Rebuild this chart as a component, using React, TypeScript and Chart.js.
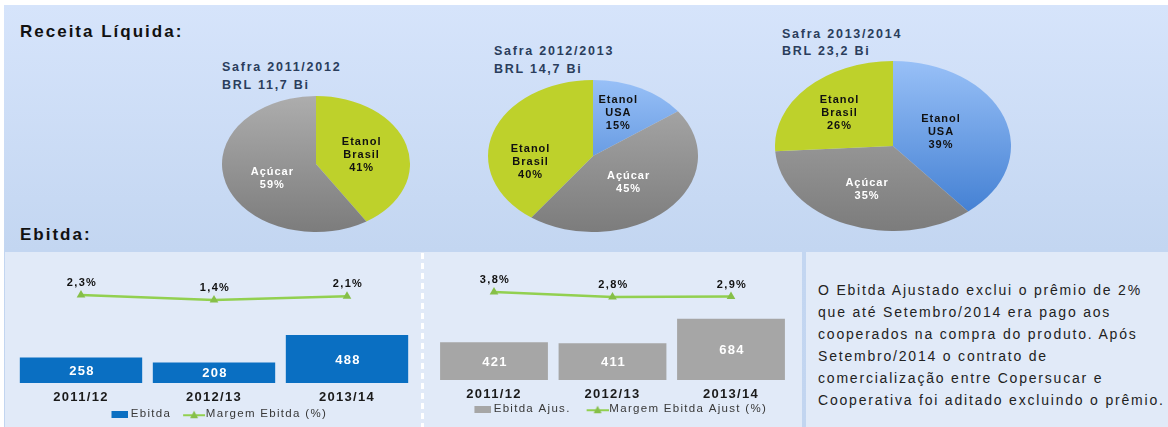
import React, { useEffect, useRef } from "react";
import { Chart, registerables } from "chart.js";
Chart.register(...registerables);

const FONT = '"Liberation Sans", Arial, Helvetica, sans-serif';

// ---------- data ----------
const sectionTitles = ["Receita Líquida:", "Ebitda:"];
const pieTitles = ["Safra 2011/2012", "Safra 2012/2013", "Safra 2013/2014"];
const pieTotals = ["BRL 11,7 Bi", "BRL 14,7 Bi", "BRL 23,2 Bi"];
const pie1Segments = ["Etanol Brasil", "Açúcar"];
const pie1Values = [41, 59];
const pie2Segments = ["Etanol USA", "Açúcar", "Etanol Brasil"];
const pie2Values = [15, 45, 40];
const pie3Segments = ["Etanol USA", "Açúcar", "Etanol Brasil"];
const pie3Values = [39, 35, 26];

const years = ["2011/12", "2012/13", "2013/14"];
const ebitdaValues = [258, 208, 488];
const margemEbitda = [2.3, 1.4, 2.1];
const ebitdaAjusValues = [421, 411, 684];
const margemEbitdaAjust = [3.8, 2.8, 2.9];
const ebitdaLegend = ["Ebitda", "Margem Ebitda (%)"];
const ebitdaAjusLegend = ["Ebitda Ajus.", "Margem Ebitda Ajust (%)"];

const noteLines = [
  "O Ebitda Ajustado exclui o prêmio de 2%",
  "que até Setembro/2014 era pago aos",
  "cooperados na compra do produto. Após",
  "Setembro/2014 o contrato de",
  "comercialização entre Copersucar e",
  "Cooperativa foi aditado excluindo o prêmio.",
];

// ---------- colours ----------
const GREEN = "#bed12b";
const BAR_BLUE = "#0a6fc2";
const BAR_GRAY = "#a6a6a6";
const LINE_GREEN = "#92d050";
const POINT_GREEN = "#86bf48";
const TITLE_NAVY = "#2a3d5c";

function segmentColor(name: string, c: any) {
  if (name === "Etanol Brasil") return GREEN;
  const area = c.chart.chartArea;
  if (!area) return name === "Açúcar" ? "#999" : "#6a9de6";
  const g = c.chart.ctx.createLinearGradient(0, area.top, 0, area.bottom);
  if (name === "Açúcar") {
    g.addColorStop(0, "#adadad");
    g.addColorStop(1, "#7c7c7c");
  } else {
    g.addColorStop(0, "#98c0f7");
    g.addColorStop(1, "#3a79cf");
  }
  return g;
}

function ellipsePiePlugin(sx: number, segments: string[], values: number[], nudges: number[][]) {
  return {
    id: "ellipsePie",
    beforeDatasetsDraw(chart: any) {
      const { ctx, chartArea: a } = chart;
      const cx = (a.left + a.right) / 2;
      ctx.save();
      ctx.translate(cx, 0);
      ctx.scale(sx, 1);
      ctx.translate(-cx, 0);
    },
    afterDatasetsDraw(chart: any) {
      const ctx = chart.ctx;
      ctx.restore();
      ctx.save();
      (ctx as any).letterSpacing = "1px";
      ctx.font = `bold 11px ${FONT}`;
      ctx.textAlign = "center";
      ctx.textBaseline = "middle";
      const meta = chart.getDatasetMeta(0);
      meta.data.forEach((el: any, i: number) => {
        const p = el.getProps(["x", "y", "startAngle", "endAngle", "outerRadius"], true);
        const mid = (p.startAngle + p.endAngle) / 2;
        const r = p.outerRadius * 0.5;
        const n = nudges[i] || [0, 0];
        const px = p.x + Math.cos(mid) * r * sx + n[0];
        const py = p.y + Math.sin(mid) * r + n[1];
        const lines = [...segments[i].split(" "), `${values[i]}%`];
        ctx.fillStyle = segments[i] === "Açúcar" ? "#ffffff" : "#111111";
        const lh = 13;
        lines.forEach((t, k) => {
          ctx.fillText(t, px + 0.5, py + (k - (lines.length - 1) / 2) * lh);
        });
      });
      ctx.restore();
    },
  };
}

function PieChart(props: {
  segments: string[];
  values: number[];
  cx: number;
  cy: number;
  rx: number;
  ry: number;
  nudges: number[][];
}) {
  const { segments, values, cx, cy, rx, ry, nudges } = props;
  const ref = useRef<HTMLCanvasElement>(null);
  useEffect(() => {
    const chart = new Chart(ref.current as HTMLCanvasElement, {
      type: "pie",
      data: {
        labels: segments,
        datasets: [
          {
            data: values,
            borderWidth: 0,
            backgroundColor: (c: any) => segmentColor(segments[c.dataIndex], c),
          } as any,
        ],
      },
      options: {
        responsive: false,
        animation: false,
        events: [],
        layout: { padding: 0 },
        plugins: { legend: { display: false }, tooltip: { enabled: false } },
      },
      plugins: [ellipsePiePlugin(rx / ry, segments, values, nudges) as any],
    });
    return () => chart.destroy();
  }, []);
  return (
    <canvas
      ref={ref}
      width={2 * rx}
      height={2 * ry}
      style={{ position: "absolute", left: cx - rx, top: cy - ry, width: 2 * rx, height: 2 * ry }}
    />
  );
}

// legend marker images, sized for a legend box of width W
function rectMarker(color: string, W: number) {
  const c = document.createElement("canvas");
  c.width = W + 7;
  c.height = 7;
  const g = c.getContext("2d")!;
  g.fillStyle = color;
  g.fillRect(W - 10, 0, 17, 7);
  return c;
}
function lineMarker(W: number) {
  const c = document.createElement("canvas");
  c.width = W + 10;
  c.height = 10;
  const g = c.getContext("2d")!;
  g.strokeStyle = LINE_GREEN;
  g.lineWidth = 2;
  g.beginPath();
  g.moveTo(W - 12, 6);
  g.lineTo(W + 10, 6);
  g.stroke();
  const m = W - 1;
  g.fillStyle = POINT_GREEN;
  g.beginPath();
  g.moveTo(m, 1.5);
  g.lineTo(m + 4, 9);
  g.lineTo(m - 4, 9);
  g.closePath();
  g.fill();
  return c;
}

const spacingPlugin = {
  id: "spacing",
  beforeLayout(chart: any) {
    chart.ctx.letterSpacing = "1.3px";
  },
  beforeDraw(chart: any) {
    chart.ctx.letterSpacing = "1.3px";
  },
};

function fmtPct(v: number) {
  return v.toFixed(1).replace(".", ",") + "%";
}

function comboLabelsPlugin(bars: number[], line: number[]) {
  return {
    id: "comboLabels",
    afterDatasetsDraw(chart: any) {
      const ctx = chart.ctx;
      ctx.save();
      ctx.letterSpacing = "1.3px";
      ctx.textAlign = "center";
      ctx.textBaseline = "middle";
      ctx.font = `bold 13px ${FONT}`;
      ctx.fillStyle = "#ffffff";
      chart.getDatasetMeta(0).data.forEach((el: any, i: number) => {
        const p = el.getProps(["x", "y", "base"], true);
        ctx.fillText(String(bars[i]), p.x + 1, (p.y + p.base) / 2 + 1);
      });
      ctx.font = `bold 11px ${FONT}`;
      ctx.fillStyle = "#111111";
      chart.getDatasetMeta(1).data.forEach((el: any, i: number) => {
        ctx.fillText(fmtPct(line[i]), el.x + 1, el.y - 12);
      });
      ctx.restore();
    },
  };
}

type ComboCfg = {
  left: number;
  top: number;
  width: number;
  height: number;
  padding: { left: number; right: number; top: number; bottom: number };
  bars: number[];
  line: number[];
  legend: string[];
  barColor: string;
  barPct: number;
  yMax: number;
  y1Min: number;
  y1Max: number;
  tickPadding: number;
  legendPadding: number;
  legendBoxW: number;
};

function ComboChart({ cfg }: { cfg: ComboCfg }) {
  const ref = useRef<HTMLCanvasElement>(null);
  useEffect(() => {
    const rm = rectMarker(cfg.barColor, cfg.legendBoxW);
    const lm = lineMarker(cfg.legendBoxW);
    const chart = new Chart(ref.current as HTMLCanvasElement, {
      type: "bar",
      data: {
        labels: years,
        datasets: [
          {
            type: "bar",
            label: cfg.legend[0],
            data: cfg.bars,
            backgroundColor: cfg.barColor,
            borderWidth: 0,
            yAxisID: "y",
            barPercentage: cfg.barPct,
            categoryPercentage: 1,
            order: 2,
          },
          {
            type: "line",
            label: cfg.legend[1],
            data: cfg.line,
            yAxisID: "y1",
            borderColor: LINE_GREEN,
            borderWidth: 2.5,
            pointStyle: "triangle",
            pointRadius: 5,
            pointBackgroundColor: POINT_GREEN,
            pointBorderColor: POINT_GREEN,
            pointBorderWidth: 0,
            tension: 0,
            order: 1,
          },
        ] as any,
      },
      options: {
        responsive: false,
        animation: false,
        events: [],
        layout: { padding: cfg.padding },
        scales: {
          x: {
            grid: { display: false, drawTicks: false },
            border: { display: false },
            ticks: {
              color: "#1a1a1a",
              font: { family: FONT, size: 13, weight: "bold", lineHeight: 1 },
              padding: cfg.tickPadding,
            },
            afterFit: (scale: any) => {
              scale.height = cfg.tickPadding + 13;
            },
          },
          y: { display: false, min: 0, max: cfg.yMax },
          y1: { display: false, min: cfg.y1Min, max: cfg.y1Max },
        },
        plugins: {
          tooltip: { enabled: false },
          legend: {
            display: true,
            position: "bottom",
            labels: {
              color: "#383838",
              font: { family: FONT, size: 11.5 },
              usePointStyle: true,
              pointStyleWidth: cfg.legendBoxW,
              padding: cfg.legendPadding,
              generateLabels: (ch: any) => {
                const items = (Chart.defaults.plugins.legend.labels as any).generateLabels(ch);
                items.sort((a: any, b: any) => a.datasetIndex - b.datasetIndex);
                items[0].pointStyle = rm;
                items[1].pointStyle = lm;
                return items;
              },
            },
          },
        },
      } as any,
      plugins: [spacingPlugin as any, comboLabelsPlugin(cfg.bars, cfg.line) as any],
    });
    return () => chart.destroy();
  }, []);
  return (
    <canvas
      ref={ref}
      width={cfg.width}
      height={cfg.height}
      style={{ position: "absolute", left: cfg.left, top: cfg.top, width: cfg.width, height: cfg.height }}
    />
  );
}

const leftCombo: ComboCfg = {
  left: 5,
  top: 252,
  width: 416,
  height: 178,
  padding: { left: 9.5, right: 7.5, top: 10, bottom: 0 },
  bars: ebitdaValues,
  line: margemEbitda,
  legend: ebitdaLegend,
  barColor: BAR_BLUE,
  barPct: 0.92,
  yMax: 1228,
  y1Min: -13.41,
  y1Max: 8.2,
  tickPadding: 7.5,
  legendPadding: 5,
  legendBoxW: 24,
};

const midCombo: ComboCfg = {
  left: 425,
  top: 252,
  width: 377,
  height: 175,
  padding: { left: 9.75, right: 11.75, top: 10, bottom: 2 },
  bars: ebitdaAjusValues,
  line: margemEbitdaAjust,
  legend: ebitdaAjusLegend,
  barColor: BAR_GRAY,
  barPct: 0.91,
  yMax: 1316,
  y1Min: -13.8,
  y1Max: 9.8,
  tickPadding: 7.5,
  legendPadding: 3,
  legendBoxW: 30,
};

const titleStyle: React.CSSProperties = {
  position: "absolute",
  fontFamily: FONT,
  fontWeight: "bold",
  fontSize: 17,
  lineHeight: "17px",
  letterSpacing: "2px",
  color: "#111",
  whiteSpace: "nowrap",
};

const pieTitleStyle: React.CSSProperties = {
  position: "absolute",
  fontFamily: FONT,
  fontWeight: "bold",
  fontSize: 12.5,
  lineHeight: "17.5px",
  letterSpacing: "1.75px",
  color: TITLE_NAVY,
  whiteSpace: "nowrap",
};

const pieTitlePos = [
  { left: 222, top: 59 },
  { left: 494, top: 43 },
  { left: 782, top: 25.5 },
];

export default function App() {
  return (
    <div
      style={{
        position: "absolute",
        left: 0,
        top: 0,
        width: 1168,
        height: 427,
        overflow: "hidden",
        background: "#ffffff",
      }}
    >
      <div
        style={{
          position: "absolute",
          left: 4,
          top: 5,
          right: 0,
          bottom: 0,
          background: "linear-gradient(to bottom, #d6e4fb 0px, #c3d6f1 245px, #c2d5f0 427px)",
        }}
      />
      <div style={{ position: "absolute", left: 5, top: 252, width: 420, height: 175, background: "#e1eaf8" }} />
      <div style={{ position: "absolute", left: 425, top: 252, width: 377, height: 175, background: "#e1eaf8" }} />
      <div style={{ position: "absolute", left: 806, top: 252, width: 362, height: 175, background: "#e1eaf8" }} />
      <div
        style={{
          position: "absolute",
          left: 421,
          top: 253,
          width: 3,
          height: 174,
          background:
            "repeating-linear-gradient(to bottom, #ffffff 0px, #ffffff 6px, rgba(255,255,255,0) 6px, rgba(255,255,255,0) 10px)",
        }}
      />

      <div style={{ ...titleStyle, left: 20, top: 23 }}>{sectionTitles[0]}</div>
      <div style={{ ...titleStyle, left: 20, top: 226 }}>{sectionTitles[1]}</div>

      {pieTitles.map((t, i) => (
        <div key={t} style={{ ...pieTitleStyle, ...pieTitlePos[i] }}>
          {t}
          <br />
          {pieTotals[i]}
        </div>
      ))}

      <PieChart
        segments={pie1Segments}
        values={pie1Values}
        cx={316}
        cy={164}
        rx={94}
        ry={68}
        nudges={[[0, 0], [1, 5]]}
      />
      <PieChart
        segments={pie2Segments}
        values={pie2Values}
        cx={593}
        cy={156}
        rx={105}
        ry={76}
        nudges={[[1, -9], [-2, 0], [-13, 18]]}
      />
      <PieChart
        segments={pie3Segments}
        values={pie3Values}
        cx={893}
        cy={146}
        rx={118}
        ry={85}
        nudges={[[-8, 0], [-3, 4], [-11, -4]]}
      />

      <ComboChart cfg={leftCombo} />
      <ComboChart cfg={midCombo} />

      <div
        style={{
          position: "absolute",
          left: 818,
          top: 278.5,
          fontFamily: FONT,
          fontSize: 14,
          lineHeight: "22px",
          letterSpacing: "1.8px",
          color: "#222",
          whiteSpace: "nowrap",
        }}
      >
        {noteLines.map((l, i) => (
          <div key={i}>{l}</div>
        ))}
      </div>
    </div>
  );
}
